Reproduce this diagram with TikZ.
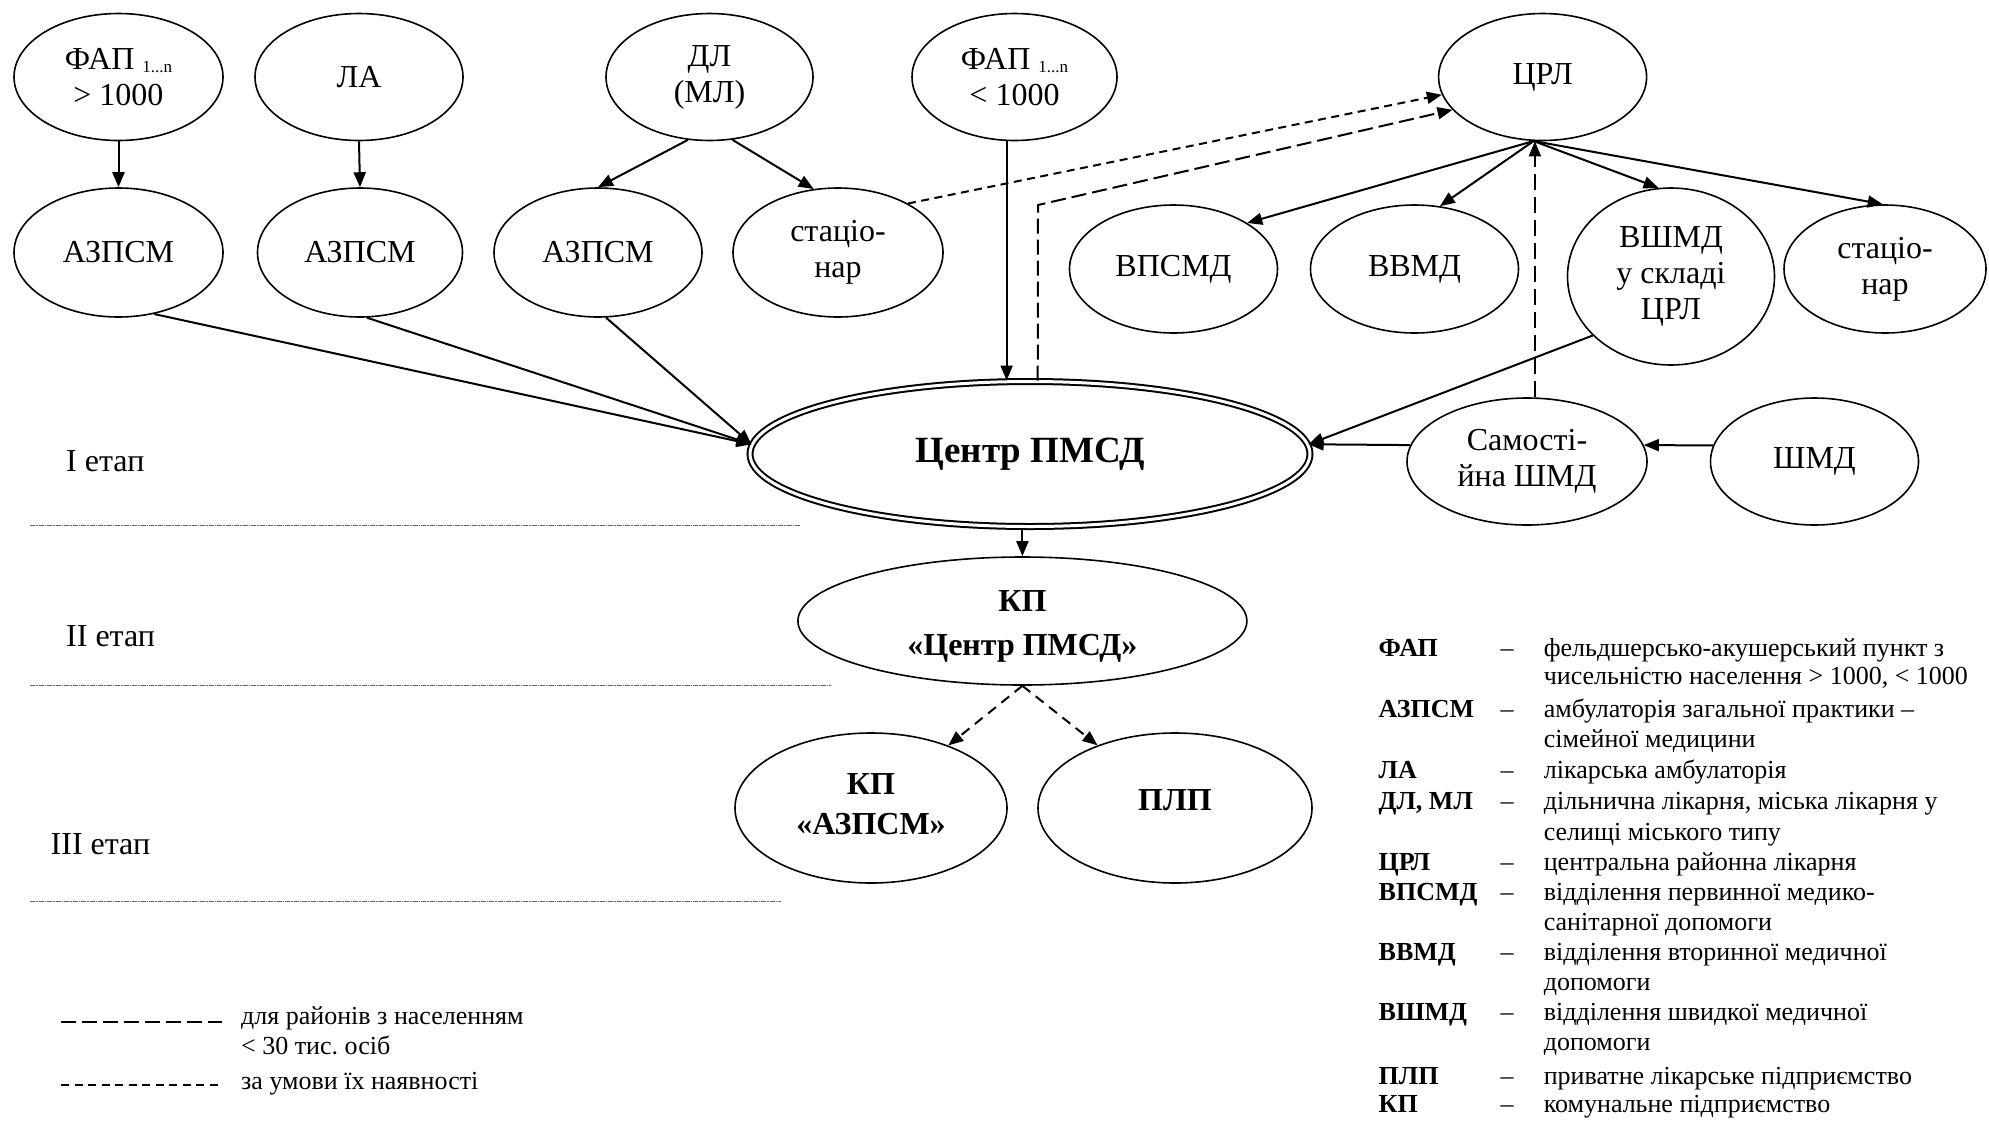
\documentclass[tikz,border=0pt]{standalone}
\usepackage{fontspec}
\setmainfont{Liberation Serif}
\usetikzlibrary{arrows.meta,shapes.geometric,calc}
\newcommand{\nfs}{\fontsize{32}{36}\selectfont}
\newcommand{\lfs}{\fontsize{26}{30}\selectfont}
\frenchspacing
\begin{document}
\begin{tikzpicture}[x=1pt,y=-1pt,
  ell/.style={draw, ellipse, line width=1.6pt, inner sep=0pt, align=center, font=\nfs},
  tip/.style={-{Triangle[length=15pt,width=12pt]}},
  arr/.style={line width=2pt, tip},
  ldash/.style={line width=2pt, dash pattern=on 15pt off 6pt},
  vdash/.style={line width=1.6pt, dash pattern=on 16pt off 7pt},
  sdash/.style={line width=2pt, dash pattern=on 8pt off 5.5pt},
  mdash/.style={line width=2pt, dash pattern=on 10pt off 7pt},
  stagesep/.style={line width=1pt, black!60, dash pattern=on 5pt off 1pt on 1.5pt off 1pt},
  lab/.style={anchor=base west, inner sep=0pt, font=\nfs},
  leg/.style={anchor=base west, inner sep=0pt, font=\lfs},
  legb/.style={anchor=base west, inner sep=0pt, font=\lfs\bfseries},
  legd/.style={anchor=base, inner sep=0pt, font=\lfs},
  bt/.style={font=\fontsize{32}{40}\selectfont\bfseries, align=center, inner sep=0pt},
]
\useasboundingbox[fill=white] (0,0) rectangle (1989,1120);

% top row
\node[ell, minimum width=209pt, minimum height=127pt] (fap1) at (118.5,77) {ФАП \raisebox{-3pt}{\fontsize{17}{17}\selectfont 1...n}\\> 1000};
\node[ell, minimum width=208pt, minimum height=127pt] (la) at (359,77) {ЛА};
\node[ell, minimum width=207pt, minimum height=127pt] (dl) at (709.5,77) {ДЛ\\(МЛ)};
\node[ell, minimum width=205pt, minimum height=127pt] (fap2) at (1014.5,77) {ФАП \raisebox{-3pt}{\fontsize{17}{17}\selectfont 1...n}\\< 1000};
\node[ell, minimum width=208pt, minimum height=127pt] (crl) at (1542.6,77) {ЦРЛ};

% second row
\node[ell, minimum width=209pt, minimum height=129pt] (azp1) at (118.5,252.5) {АЗПСМ};
\node[ell, minimum width=205pt, minimum height=129pt] (azp2) at (360,252.5) {АЗПСМ};
\node[ell, minimum width=208pt, minimum height=129pt] (azp3) at (598,252.5) {АЗПСМ};
\node[ell, minimum width=210pt, minimum height=129pt] (st1) at (838,252.5) {стаціо-\\нар};
\node[ell, minimum width=208pt, minimum height=128pt] (vpsmd) at (1173.5,269) {ВПСМД};
\node[ell, minimum width=208pt, minimum height=128pt] (vvmd) at (1414.5,269) {ВВМД};
\node[ell, minimum width=207pt, minimum height=177pt] (vshmd) at (1671,276.5) {ВШМД\\у складі\\ЦРЛ};
\node[ell, minimum width=202pt, minimum height=128pt] (st2) at (1885,269) {стаціо-\\нар};

% centre row
\node[ell, double, double distance=3pt, line width=2pt, minimum width=560pt, minimum height=145pt, font=\fontsize{37}{40}\selectfont\bfseries] (cpmsd) at (1030,454) {Центр ПМСД};
\node[ell, minimum width=240pt, minimum height=127pt] (samshmd) at (1527,461.5) {Самості-\\йна ШМД};
\node[ell, minimum width=208pt, minimum height=127pt] (shmd) at (1814.5,461.5) {ШМД};

% lower
\node[ell, minimum width=449pt, minimum height=128pt] (kpc) at (1022.4,621) {};
\node[bt, font=\fontsize{32}{44}\selectfont\bfseries] (kpct) at (1022.4,626) {КП\\«Центр ПМСД»};
\node[ell, minimum width=272pt, minimum height=150pt] (kpa) at (871,808) {};
\node[bt] (kpat) at (871,804) {КП\\«АЗПСМ»};
\node[ell, minimum width=274pt, minimum height=150pt] (plp) at (1175,808) {};
\node[bt] (plpt) at (1175,800) {ПЛП};

% connectors top
\draw[arr] (fap1.south) -- (azp1.north);
\draw[arr] (la.south) -- (azp2.north);
\draw[arr] (dl.251) -- (azp3.north);
\draw[arr] (dl.290) -- (st1.111);

\draw[arr] (fap2.263) -- (fap2.263 |- cpmsd.north);
\coordinate (bend) at (1038,205);
\draw[ldash, tip] (cpmsd.84) -- (bend) -- (crl.200);
\draw[sdash, tip] (st1.35) -- (crl.190);

\coordinate (crlb) at (crl.262);
\draw[arr] (crlb) -- (vpsmd.32);
\draw[arr] (crlb) -- (vvmd.68);
\draw[arr] (crlb) -- (vshmd.98);
\draw[arr] (crlb) -- (st2.92);
\draw[vdash, tip] (samshmd.83) -- (samshmd.83 |- crl.south);

\draw[arr] (azp1.300) -- (cpmsd.178);
\draw[arr] (azp2.276) -- (cpmsd.178);
\draw[arr] (azp3.277) -- (cpmsd.178);

\draw[arr] (vshmd.217) -- (cpmsd.2);
\draw[arr] (samshmd.172) -- (cpmsd.2);
\draw[arr] (shmd.171) -- (samshmd.8);

\draw[arr] (kpc.north |- cpmsd.south) -- (kpc.north);
\draw[mdash, tip] (kpc.south) -- (kpa.39);
\draw[mdash, tip] (kpc.south) -- (plp.141);

% stages
\node[lab] (s1) at (66,471) {I етап};
\node[lab] (s2) at (66,646) {II етап};
\node[lab] (s3) at (50.5,854) {III етап};
\draw[stagesep] (30,525.7) -- (800.7,525.7);
\draw[stagesep] (30,685.7) -- (831,685.7);
\draw[stagesep] (30,901.7) -- (780.6,901.7);

% bottom-left legend
\coordinate (lga) at (61,1021.7);
\coordinate (lgb) at (222,1021.7);
\coordinate (lgc) at (61,1085);
\coordinate (lgd) at (222,1085);
\draw[ldash] (lga) -- (lgb);
\draw[sdash, line width=1.6pt] (lgc) -- (lgd);
\node[leg] (b1) at (241,1024) {для районів з населенням};
\node[leg] (b2) at (241,1054) {< 30 тис. осіб};
\node[leg] (b3) at (241,1089) {за умови їх наявності};

% right legend
\node[legb] (a1) at (1378.5,656.5) {ФАП};
\node[legd] (d1) at (1507,656.5) {–};
\node[leg] (t1) at (1543.6,656.5) {фельдшерсько-акушерський пункт з};
\node[leg] (t1b) at (1543.6,684) {чисельністю населення > 1000, < 1000};
\node[legb] (a2) at (1378.5,717) {АЗПСМ};
\node[legd] (d2) at (1507,717) {–};
\node[leg] (t2) at (1543.6,717) {амбулаторія загальної практики –};
\node[leg] (t2b) at (1543.6,747) {сімейної медицини};
\node[legb] (a3) at (1378.5,778) {ЛА};
\node[legd] (d3) at (1507,778) {–};
\node[leg] (t3) at (1543.6,778) {лікарська амбулаторія};
\node[legb] (a4) at (1378.5,809.5) {ДЛ, МЛ};
\node[legd] (d4) at (1507,809.5) {–};
\node[leg] (t4) at (1543.6,809.5) {дільнична лікарня, міська лікарня у};
\node[leg] (t4b) at (1543.6,840) {селищі міського типу};
\node[legb] (a5) at (1378.5,870.5) {ЦРЛ};
\node[legd] (d5) at (1507,870.5) {–};
\node[leg] (t5) at (1543.6,870.5) {центральна районна лікарня};
\node[legb] (a6) at (1378.5,900.5) {ВПСМД};
\node[legd] (d6) at (1507,900.5) {–};
\node[leg] (t6) at (1543.6,900.5) {відділення первинної медико-};
\node[leg] (t6b) at (1543.6,930.5) {санітарної допомоги};
\node[legb] (a7) at (1378.5,960.5) {ВВМД};
\node[legd] (d7) at (1507,960.5) {–};
\node[leg] (t7) at (1543.6,960.5) {відділення вторинної медичної};
\node[leg] (t7b) at (1543.6,990.5) {допомоги};
\node[legb] (a8) at (1378.5,1020.5) {ВШМД};
\node[legd] (d8) at (1507,1020.5) {–};
\node[leg] (t8) at (1543.6,1020.5) {відділення швидкої медичної};
\node[leg] (t8b) at (1543.6,1050.5) {допомоги};
\node[legb] (a9) at (1378.5,1084) {ПЛП};
\node[legd] (d9) at (1507,1084) {–};
\node[leg] (t9) at (1543.6,1084) {приватне лікарське підприємство};
\node[legb] (a10) at (1378.5,1112) {КП};
\node[legd] (d10) at (1507,1112) {–};
\node[leg] (t10) at (1543.6,1112) {комунальне підприємство};
\end{tikzpicture}
\end{document}
